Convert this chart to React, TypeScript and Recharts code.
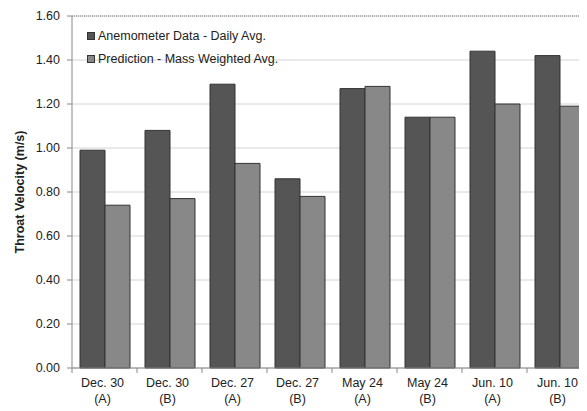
import React from 'react';
import { BarChart, Bar, XAxis, YAxis, CartesianGrid, ReferenceLine } from 'recharts';

const categories = ['Dec. 30', 'Dec. 30', 'Dec. 27', 'Dec. 27', 'May 24', 'May 24', 'Jun. 10', 'Jun. 10'];
const cases = ['(A)', '(B)', '(A)', '(B)', '(A)', '(B)', '(A)', '(B)'];
const anemometer = [0.99, 1.08, 1.29, 0.86, 1.27, 1.14, 1.44, 1.42];
const prediction = [0.74, 0.77, 0.93, 0.78, 1.28, 1.14, 1.20, 1.19];
const yTicks = [0, 0.2, 0.4, 0.6, 0.8, 1.0, 1.2, 1.4, 1.6];

const seriesNames = ['Anemometer Data - Daily Avg.', 'Prediction - Mass Weighted Avg.'];
const seriesColors = ['#555555', '#888888'];

const data = categories.map((c, i) => ({
  key: `${c} ${cases[i]}`,
  date: c,
  kase: cases[i],
  anemometer: anemometer[i],
  prediction: prediction[i],
}));

const FONT = '"Liberation Sans", Arial, Helvetica, sans-serif';
const CHART_W = 600;
const CHART_H = 403;
const Y_W = 64;
const PLOT_W = 520;
const BAND = PLOT_W / categories.length;

const XTick = (props: any) => {
  const { x, y, index } = props;
  const d = data[index];
  return (
    <g>
      <line x1={x - BAND / 2} y1={y} x2={x - BAND / 2} y2={y + 5} stroke="#888" />
      {index === categories.length - 1 && (
        <line x1={x + BAND / 2} y1={y} x2={x + BAND / 2} y2={y + 5} stroke="#888" />
      )}
      <text x={x - 2} y={y + 19} textAnchor="middle" fontSize={12.5} fill="#222" fontFamily={FONT}>
        {d ? d.date : ''}
      </text>
      <text x={x - 2} y={y + 35} textAnchor="middle" fontSize={12.5} fill="#222" fontFamily={FONT}>
        {d ? d.kase : ''}
      </text>
    </g>
  );
};

const LegendBox = () => (
  <div
    style={{
      position: 'absolute',
      top: 16,
      left: 79,
      fontFamily: FONT,
      fontSize: 12.5,
      color: '#222',
      pointerEvents: 'none',
    }}
  >
    {seriesNames.map((n, i) => (
      <div key={n} style={{ display: 'flex', alignItems: 'center', height: 23, whiteSpace: 'nowrap' }}>
        <span
          style={{
            display: 'inline-block',
            width: 8,
            height: 8,
            background: seriesColors[i],
            border: '1px solid #333',
            boxSizing: 'border-box',
            marginRight: 3,
          }}
        />
        <span>{n}</span>
      </div>
    ))}
  </div>
);

const YLabel = (props: any) => {
  const vb = props.viewBox || { y: 8, height: 352 };
  const cy = vb.y + vb.height / 2;
  return (
    <text
      x={12}
      y={cy}
      transform={`rotate(-90, 12, ${cy})`}
      textAnchor="middle"
      dominantBaseline="central"
      fontSize={12.5}
      fontWeight="bold"
      fill="#222"
      fontFamily={FONT}
    >
      Throat Velocity (m/s)
    </text>
  );
};

export default function App() {
  return (
    <div style={{ width: 579, height: CHART_H, overflow: 'hidden', position: 'relative' }}>
      <BarChart
        width={CHART_W}
        height={CHART_H}
        data={data}
        margin={{ top: 8, right: CHART_W - Y_W - PLOT_W, left: 0, bottom: 3 }}
        barCategoryGap={8}
        barGap={0}
      >
        <CartesianGrid vertical={false} stroke="#d4d4d4" />
        <ReferenceLine y={1.6} stroke="#777" strokeDasharray="1 1" />
        <XAxis
          dataKey="key"
          interval={0}
          height={40}
          tickSize={0}
          tickMargin={0}
          tick={<XTick />}
          axisLine={{ stroke: '#888' }}
        />
        <YAxis
          width={Y_W}
          domain={[0, 1.6]}
          ticks={yTicks}
          tickFormatter={(v: number) => v.toFixed(2)}
          tickSize={5}
          tickMargin={7}
          tick={{ fontSize: 12.5, fill: '#222', fontFamily: FONT }}
          axisLine={{ stroke: '#888' }}
          tickLine={{ stroke: '#888' }}
          label={<YLabel />}
        />
        <Bar dataKey="anemometer" name={seriesNames[0]} fill={seriesColors[0]} stroke="#333" strokeWidth={1} isAnimationActive={false} />
        <Bar dataKey="prediction" name={seriesNames[1]} fill={seriesColors[1]} stroke="#333" strokeWidth={1} isAnimationActive={false} />
      </BarChart>
      <LegendBox />
    </div>
  );
}
